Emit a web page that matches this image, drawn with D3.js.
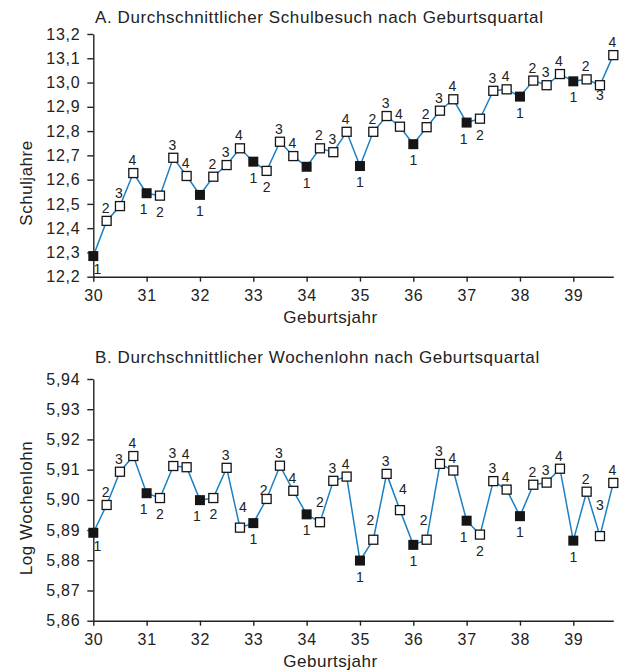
<!DOCTYPE html>
<html>
<head>
<meta charset="utf-8">
<script src="https://cdn.jsdelivr.net/npm/d3@7"></script>
<style>
    body { margin:0; background:#fff; }
    svg text { font-family: "Liberation Sans", Arial, Helvetica, sans-serif; fill:#222; }
</style>
</head>
<body>
<div id="chart"></div>
<script>
(function(){

    /* Geburtsjahr (19..) und Quartal */
    var years = [30, 31, 32, 33, 34, 35, 36, 37, 38, 39];
    var quarters = [1, 2, 3, 4];

    /* A. Schuljahre, je Jahr 4 Quartale */
    var schuljahre = [
        12.285, 12.430, 12.491, 12.627,
        12.544, 12.534, 12.690, 12.615,
        12.537, 12.612, 12.660, 12.729,
        12.674, 12.636, 12.756, 12.697,
        12.653, 12.729, 12.713, 12.797,
        12.656, 12.797, 12.862, 12.818,
        12.746, 12.816, 12.884, 12.931,
        12.835, 12.851, 12.966, 12.972,
        12.942, 13.008, 12.989, 13.035,
        13.005, 13.013, 12.989, 13.113
    ];

    /* B. Log Wochenlohn */
    var wochenlohn = [
        5.8891, 5.8983, 5.9093, 5.9145,
        5.9022, 5.9006, 5.9112, 5.9108,
        5.8999, 5.9006, 5.9106, 5.8908,
        5.8923, 5.9003, 5.9113, 5.9030,
        5.8952, 5.8926, 5.9063, 5.9077,
        5.8799, 5.8868, 5.9086, 5.8966,
        5.8851, 5.8868, 5.9119, 5.9097,
        5.8931, 5.8885, 5.9062, 5.9034,
        5.8946, 5.9050, 5.9057, 5.9103,
        5.8865, 5.9027, 5.8880, 5.9056
    ];

    var ticksA = [12.2, 12.3, 12.4, 12.5, 12.6, 12.7, 12.8, 12.9, 13.0, 13.1, 13.2];
    var ticksB = [5.86, 5.87, 5.88, 5.89, 5.90, 5.91, 5.92, 5.93, 5.94];

    /* wo die Quartalsziffer steht: a=oben, b=unten, l/r=unten links/rechts ... */
    var labelPosA = ("r a a a  l b a a  b a a a  b b a a  b a a a  " +
                     "b a a a  b a a a  l b a a  b a a a  b a s a").split(/\s+/);
    var labelPosB = ("r a a a  l b a a  l b a R  b c a a  b A a a  " +
                     "b L a R  b L a a  l b a a  b a a a  b a H a").split(/\s+/);

    var labelOffset = {
        a:[-1,-8], A:[0,-15], L:[-3,-15], R:[3,-16], c:[-3,-4], H:[0,-26],
        b:[0,21], s:[0,15], l:[-3,21], r:[4,18]
    };

    var W = 624, H = 671;
    var left = 93.3, right = 613.3;

    var de = d3.formatLocale({decimal:",", thousands:".", grouping:[3], currency:["","€"]});

    var svg = d3.select("#chart")
        .append("svg")
        .attr("width", W)
        .attr("height", H);

    var x = d3.scaleLinear()
        .domain([30, 39.75])
        .range([left, right]);

    function points(values){
        var data = [];
        years.forEach(function(yr, i){
            quarters.forEach(function(q, j){
                data.push({ x: yr + (q - 1) / 4, q: q, v: values[i * 4 + j] });
            });
        });
        return data;
    }

    function drawPanel(cfg){
        var y = d3.scaleLinear()
            .domain(d3.extent(cfg.ticks))
            .range([cfg.bottom, cfg.top]);

        var data = points(cfg.values);

        /* Titel */
        svg.append("text")
            .attr("x", 95)
            .attr("y", cfg.titleY)
            .style("font-size", "17px")
            .style("letter-spacing", "0.6px")
            .text(cfg.title);

        /* Achsen */
        var gx = svg.append("g")
            .attr("transform", "translate(0," + cfg.bottom + ")")
            .call(d3.axisBottom(x).tickValues(years).tickFormat(d3.format("d"))
                .tickSize(5).tickSizeOuter(0).tickPadding(8));

        var gy = svg.append("g")
            .attr("transform", "translate(" + left + ",0)")
            .call(d3.axisLeft(y).tickValues(cfg.ticks).tickFormat(de.format(cfg.fmt))
                .tickSize(6).tickSizeOuter(0).tickPadding(7));

        [gx, gy].forEach(function(g){
            g.selectAll("path, line")
                .style("stroke", "#222")
                .style("stroke-width", 1.4);
            g.selectAll("text")
                .style("font-size", "16px")
                .style("letter-spacing", "0.7px")
                .style("font-family", "'Liberation Sans', Arial, sans-serif")
                .style("fill", "#222");
        });

        /* Achsentitel */
        svg.append("text")
            .attr("x", 330.5)
            .attr("y", cfg.bottom + 46)
            .attr("text-anchor", "middle")
            .style("font-size", "17px")
            .style("letter-spacing", "0.5px")
            .text("Geburtsjahr");

        svg.append("text")
            .attr("transform", "translate(31.5," + cfg.ylabelY + ") rotate(-90)")
            .attr("text-anchor", "middle")
            .style("font-size", "17px")
            .style("letter-spacing", "0.5px")
            .text(cfg.ylabel);

        /* Linie */
        var line = d3.line()
            .x(function(d){ return x(d.x); })
            .y(function(d){ return y(d.v); });

        svg.append("path")
            .datum(data)
            .attr("d", line)
            .style("fill", "none")
            .style("stroke", "#1b80c3")
            .style("stroke-width", 1.5);

        /* Marker: Quartal 1 gefuellt */
        svg.append("g")
            .selectAll("rect")
            .data(data)
            .enter()
            .append("rect")
            .attr("x", function(d){ return x(d.x) - (d.q == 1 ? 5 : 4.5); })
            .attr("y", function(d){ return y(d.v) - (d.q == 1 ? 5 : 4.5); })
            .attr("width", function(d){ return d.q == 1 ? 10 : 9; })
            .attr("height", function(d){ return d.q == 1 ? 10 : 9; })
            .style("fill", function(d){ return d.q == 1 ? "#151515" : "#fff"; })
            .style("stroke", "#151515")
            .style("stroke-width", function(d){ return d.q == 1 ? 0 : 1.3; });

        /* Quartalsziffern */
        svg.append("g")
            .selectAll("text")
            .data(data)
            .enter()
            .append("text")
            .attr("x", function(d, i){ return x(d.x) + labelOffset[cfg.labelPos[i]][0]; })
            .attr("y", function(d, i){ return y(d.v) + labelOffset[cfg.labelPos[i]][1]; })
            .attr("text-anchor", "middle")
            .style("font-size", "14px")
            .style("letter-spacing", "0px")
            .text(function(d){ return d.q; });
    }

    drawPanel({
        title: "A. Durchschnittlicher Schulbesuch nach Geburtsquartal",
        ylabel: "Schuljahre",
        values: schuljahre,
        ticks: ticksA,
        fmt: ".1f",
        top: 34,
        bottom: 276.7,
        titleY: 22.7,
        ylabelY: 183,
        labelPos: labelPosA
    });

    drawPanel({
        title: "B. Durchschnittlicher Wochenlohn nach Geburtsquartal",
        ylabel: "Log Wochenlohn",
        values: wochenlohn,
        ticks: ticksB,
        fmt: ".2f",
        top: 379,
        bottom: 620.7,
        titleY: 362.7,
        ylabelY: 508,
        labelPos: labelPosB
    });

})();
</script>
</body>
</html>
